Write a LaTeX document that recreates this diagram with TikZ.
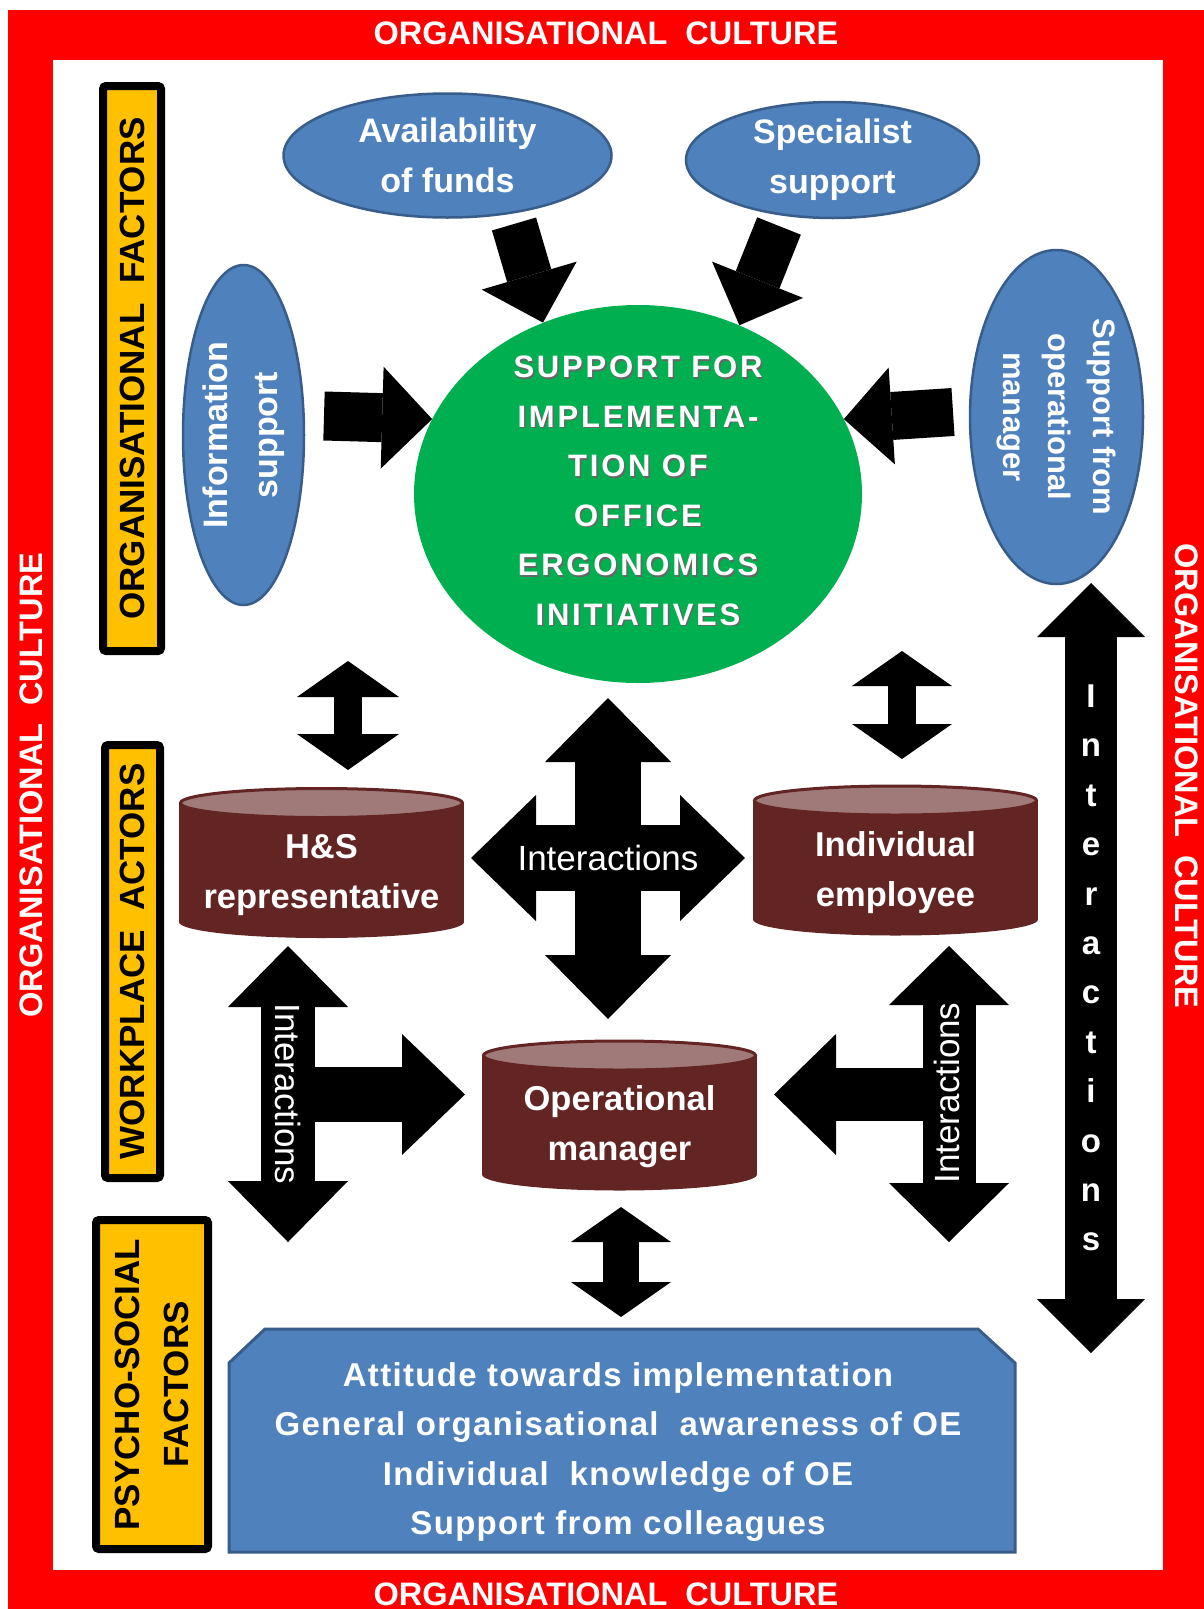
\documentclass[tikz,border=0pt]{standalone}
\usepackage{fontspec}
\setmainfont{Liberation Sans}
\usetikzlibrary{shapes.geometric, arrows.meta, calc}

\definecolor{culturered}{HTML}{FF0000}
\definecolor{factororange}{HTML}{FFC000}
\definecolor{sourceblue}{HTML}{4F81BD}
\definecolor{sourceedge}{HTML}{385D8A}
\definecolor{goalgreen}{HTML}{00B050}
\definecolor{actorbody}{HTML}{632523}
\definecolor{actortop}{HTML}{A07A78}

\newcommand{\goallines}{SUPPORT FOR\\IMPLEMENTA-\\TION OF\\OFFICE\\ERGONOMICS\\INITIATIVES}

\begin{document}
\begin{tikzpicture}[x=1pt, y=-1pt,
    culture/.style={text=white, inner sep=0pt, font=\fontsize{32.5}{38}\selectfont\bfseries},
    factor/.style={rectangle, draw=black, line width=8pt, fill=factororange, rounded corners=3pt, align=center, inner sep=0pt, font=\fontsize{35}{49}\selectfont\bfseries},
    source/.style={ellipse, draw=sourceedge, line width=2.5pt, fill=sourceblue, text=white, align=center, inner sep=0pt, font=\fontsize{34}{50}\selectfont\bfseries},
    goal/.style={ellipse, fill=goalgreen, inner sep=0pt, minimum width=448pt, minimum height=378pt},
    goaltext/.style={align=center, inner sep=0pt, font={\fontsize{31}{49.5}\selectfont\bfseries\addfontfeatures{LetterSpace=9}}},
    actor/.style={text=white, align=center, inner sep=0pt, font=\fontsize{34.5}{50}\selectfont\bfseries},
    psych/.style={text=white, align=center, inner sep=0pt, font={\fontsize{33}{49.5}\selectfont\bfseries\addfontfeatures{LetterSpace=4}}},
    oneway/.style n args={3}{line width=#1pt, arrows={-Triangle[width=#2pt, length=#3pt, line width=0pt]}},
    twoway/.style n args={3}{line width=#1pt, arrows={Triangle[width=#2pt, length=#3pt, line width=0pt]-Triangle[width=#2pt, length=#3pt, line width=0pt]}},
    arrowtext/.style={text=white, inner sep=0pt, font=\fontsize{35}{40}\selectfont}]

    \useasboundingbox (0,0) rectangle (1204,1609);

    % Organisational culture frame
    \fill[culturered] (8,10) rectangle (1204,1609);
    \fill[white] (53,60) rectangle (1163,1570);
    \node[culture] (culturetop) at (606,33) {ORGANISATIONAL\ \ CULTURE};
    \node[culture] (culturebottom) at (606,1594) {ORGANISATIONAL\ \ CULTURE};
    \node[culture, rotate=90] (cultureleft) at (31,785) {ORGANISATIONAL\ \ CULTURE};
    \node[culture, rotate=-90] (cultureright) at (1187,776) {ORGANISATIONAL\ \ CULTURE};

    % Factor labels
    \node[factor, rotate=90, minimum width=565pt, minimum height=58pt] (orgfactors) at (132,368.5) {ORGANISATIONAL\ \ FACTORS};
    \node[factor, rotate=90, minimum width=433pt, minimum height=55pt] (actors) at (132.5,961.5) {WORKPLACE\ \ ACTORS};
    \node[factor, rotate=90, minimum width=329pt, minimum height=112pt] (psychofactors) at (152,1384.5) {PSYCHO-SOCIAL\\FACTORS};

    % Organisational factors
    \node[source, minimum width=328pt, minimum height=124pt] (funds) at (447.5,155.5) {Availability\\of funds};
    \node[source, minimum width=293pt, minimum height=116pt] (specialist) at (832.5,160) {Specialist\\support};
    \node[source, rotate=90, minimum width=340pt, minimum height=121pt] (info) at (243.5,435) {Information\\support};
    \node[source, rotate=-90, minimum width=334pt, minimum height=173pt, font=\fontsize{31}{45}\selectfont\bfseries] (opsupport) at (1056.5,417) {Support from\\operational\\manager};

    % Central goal
    \node[goal] (support) at (638,494) {};
    \node[goaltext, text=black!60] (supportshadow) at ($(support.center)+(1.5,-1.5)$) {\goallines};
    \node[goaltext, text=white] (supporttext) at ($(support.center)+(0,-3)$) {\goallines};

    % Workplace actors (cylinders)
    \foreach \cx/\cy/\cw in {321.5/862.5/285, 895.5/860/285, 619.5/1115/275} {
        \fill[actorbody] (\cx-\cw/2, \cy-59.5) rectangle (\cx+\cw/2, \cy+59.5);
        \fill[actorbody] (\cx, \cy+59.5) ellipse [x radius=\cw/2, y radius=16];
        \filldraw[fill=actortop, draw=actorbody, line width=3pt] (\cx, \cy-59.5) ellipse [x radius=\cw/2-1.5, y radius=14.5];
    }
    \node[actor] (hs) at (321.5,875.5) {H\&S\\representative};
    \node[actor] (employee) at (895.5,872.5) {Individual\\employee};
    \node[actor] (opmanager) at (619.5,1127) {Operational\\manager};

    % Psycho-social factors
    \filldraw[fill=sourceblue, draw=sourceedge, line width=3pt] (229,1552) -- (229,1363) -- (265,1329) -- (978,1329) -- (1015,1363) -- (1015,1552) -- cycle;
    \node[psych] (psych) at (618,1452) {Attitude towards implementation\\General organisational\ \ awareness of OE\\Individual\ \ knowledge of OE\\Support from colleagues};

    % Arrow ends
    \coordinate (fundsout) at (514,224);
    \coordinate (specout) at (779,226);
    \coordinate (infoout) at (324,416);
    \coordinate (opsout) at (953,412);
    \coordinate (hsup) at (348,661);
    \coordinate (hsdown) at (348,770);
    \coordinate (empup) at (902,651);
    \coordinate (empdown) at (902,759);
    \coordinate (crosstop) at (608,698);
    \coordinate (crossbottom) at (608,1019);
    \coordinate (crossleft) at (471,858);
    \coordinate (crossright) at (745,858);
    \coordinate (lefttop) at (288,946);
    \coordinate (leftbottom) at (288,1242);
    \coordinate (leftjoin) at (288,1094.5);
    \coordinate (leftin) at (465,1094.5);
    \coordinate (righttop) at (949,946);
    \coordinate (rightbottom) at (949,1242);
    \coordinate (rightjoin) at (949,1094.5);
    \coordinate (rightin) at (774,1094.5);
    \coordinate (longtop) at (1091,583);
    \coordinate (longbottom) at (1091,1353);
    \coordinate (mantop) at (621,1207);
    \coordinate (manbottom) at (621,1317);

    % Arrows into the goal
    \draw[oneway={46}{99}{49}] (fundsout) -- (support.119);
    \draw[oneway={47}{98}{49}] (specout) -- (support.59);
    \draw[oneway={49}{102}{50}] (infoout) -- (support.160);
    \draw[oneway={48}{97}{48}] (opsout) -- (support.20);

    % Interaction arrows
    \draw[twoway={28}{102}{36}] (hsup) -- (hsdown);
    \draw[twoway={28}{100}{35}] (empup) -- (empdown);
    \draw[twoway={66}{126}{64}] (crosstop) -- (crossbottom);
    \draw[twoway={66}{126}{65}] (crossleft) -- (crossright);
    \draw[twoway={54}{120}{61}] (lefttop) -- (leftbottom);
    \draw[oneway={55}{121}{63}] (leftjoin) -- (leftin);
    \draw[twoway={53}{120}{59}] (righttop) -- (rightbottom);
    \draw[oneway={53}{121}{62}] (rightjoin) -- (rightin);
    \draw[twoway={52}{108}{54}] (longtop) -- (longbottom);
    \draw[twoway={36}{100}{35}] (mantop) -- (manbottom);

    % Arrow labels
    \node[arrowtext] (crosslabel) at (608,858) {Interactions};
    \node[arrowtext, rotate=-90] (leftlabel) at (288,1094) {Interactions};
    \node[arrowtext, rotate=90] (rightlabel) at (947,1093) {Interactions};
    \node[arrowtext, align=center, font=\fontsize{33}{49.4}\selectfont\bfseries] (longlabel) at (1091,968) {I\\n\\t\\e\\r\\a\\c\\t\\i\\o\\n\\s};

\end{tikzpicture}
\end{document}
